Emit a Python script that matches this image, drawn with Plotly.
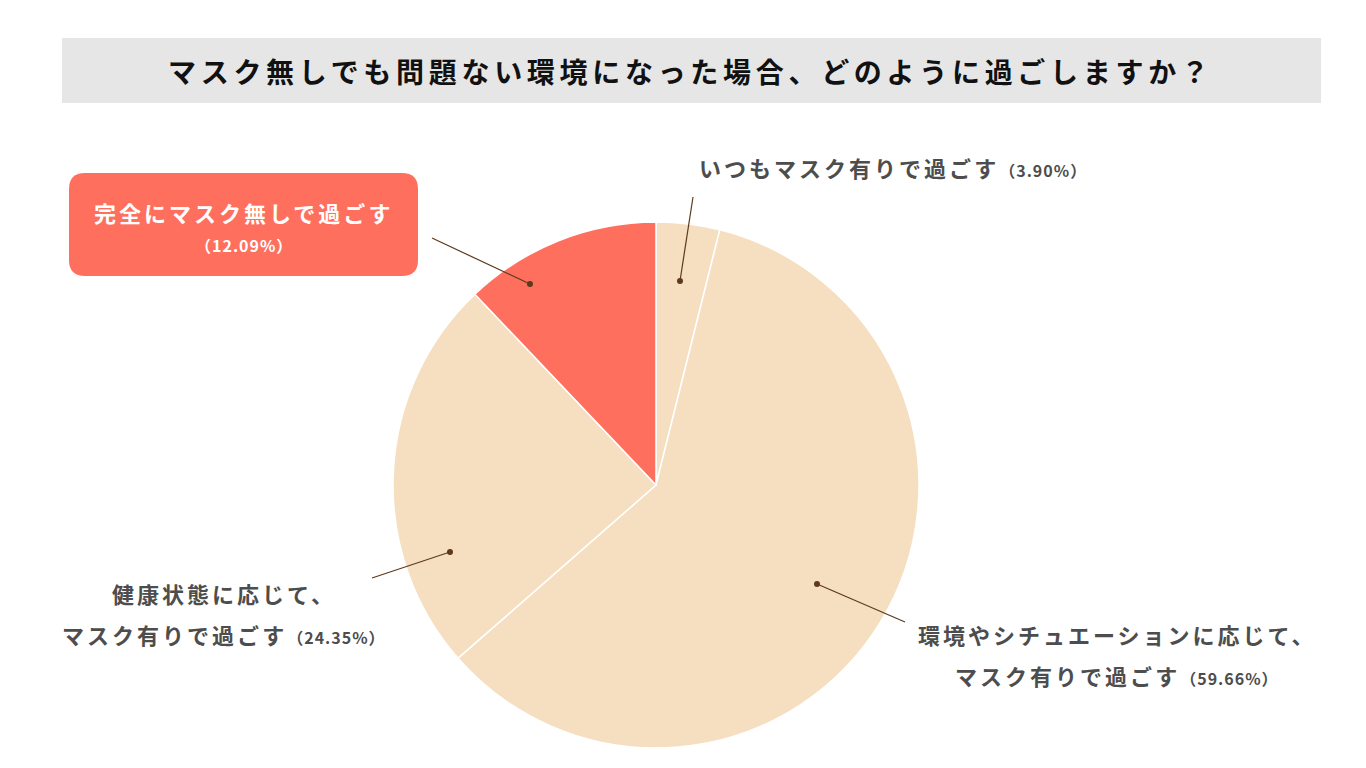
import plotly.graph_objects as go

W, H = 1366, 768

title = "マスク無しでも問題ない環境になった場合、どのように過ごしますか？"
answers = [
    "いつもマスク有りで過ごす",
    "環境やシチュエーションに応じて、<br>マスク有りで過ごす",
    "健康状態に応じて、<br>マスク有りで過ごす",
    "完全にマスク無しで過ごす",
]
shares = [3.90, 59.66, 24.35, 12.09]
colors = ["#F5DFC0", "#F5DFC0", "#F5DFC0", "#FF6F5E"]

FONT = "Noto Sans CJK JP"
TEXT_GRAY = "#4D4D4D"
LEADER = "#5C3A1A"


def px(x):
    return x / W


def py(y):
    return 1 - y / H


def spaced(s, size, gap):
    return f"<span style='font-size:{size}px;letter-spacing:{gap}px'>{s}</span>"


# pie centre (656, 485), radius 263 in page pixels
fig = go.Figure(
    go.Pie(
        labels=[a.replace("<br>", "") for a in answers],
        values=shares,
        sort=False,
        direction="clockwise",
        rotation=0,
        marker=dict(colors=colors, line=dict(color="white", width=1.5)),
        textinfo="none",
        hoverinfo="label+percent",
        showlegend=False,
        domain=dict(x=[px(393), px(919)], y=[py(748), py(222)]),
    )
)

shapes = []
# title band
shapes.append(dict(type="rect", xref="paper", yref="paper",
                   x0=px(62), x1=px(1321), y0=py(103), y1=py(38),
                   fillcolor="#E6E6E6", line_width=0, layer="below"))

# rounded box for the highlighted answer
x0, x1, y0, y1, r = 69, 418, 173, 276, 16
path = (
    f"M {px(x0 + r)},{py(y0)} L {px(x1 - r)},{py(y0)} "
    f"Q {px(x1)},{py(y0)} {px(x1)},{py(y0 + r)} L {px(x1)},{py(y1 - r)} "
    f"Q {px(x1)},{py(y1)} {px(x1 - r)},{py(y1)} L {px(x0 + r)},{py(y1)} "
    f"Q {px(x0)},{py(y1)} {px(x0)},{py(y1 - r)} L {px(x0)},{py(y0 + r)} "
    f"Q {px(x0)},{py(y0)} {px(x0 + r)},{py(y0)} Z"
)
shapes.append(dict(type="path", xref="paper", yref="paper", path=path,
                   fillcolor="#FF6F5E", line_width=0, layer="below"))

# leader lines: (dot x, dot y, end x, end y)
leaders = [(680, 281, 693, 197), (817, 584, 905, 622),
           (450, 552, 372, 578), (530, 284, 432, 238)]
for dx, dy, ex, ey in leaders:
    shapes.append(dict(type="line", xref="paper", yref="paper",
                       x0=px(dx), y0=py(dy), x1=px(ex), y1=py(ey),
                       line=dict(color=LEADER, width=1.2)))
    shapes.append(dict(type="circle", xref="paper", yref="paper",
                       x0=px(dx - 3), x1=px(dx + 3), y0=py(dy + 3), y1=py(dy - 3),
                       fillcolor=LEADER, line_width=0))


def label(line, pct):
    main = spaced(line, 22, 3)
    if pct is None:
        return f"<b>{main}</b>"
    return f"<b>{main}{spaced(f'（{pct:.2f}%）', 16, 1)}</b>"


l1a, l1b = answers[1].split("<br>")
l2a, l2b = answers[2].split("<br>")

annotations = [
    dict(x=px(691), y=py(71), text=f"<b>{spaced(title, 28, 4.7)}</b>",
         font=dict(size=28, color="#111111", family=FONT)),
    dict(x=px(244), y=py(212), text=f"<b>{spaced(answers[3], 22, 3)}</b>",
         font=dict(size=22, color="white", family=FONT)),
    dict(x=px(244), y=py(245), text=f"<b>{spaced(f'（{shares[3]:.2f}%）', 16, 1)}</b>",
         font=dict(size=16, color="white", family=FONT)),
    dict(x=px(697), y=py(167), xanchor="left", text=label(answers[0], shares[0]),
         font=dict(size=22, color=TEXT_GRAY, family=FONT)),
    dict(x=px(1117), y=py(634), text=label(l1a, None),
         font=dict(size=22, color=TEXT_GRAY, family=FONT)),
    dict(x=px(1117), y=py(675), text=label(l1b, shares[1]),
         font=dict(size=22, color=TEXT_GRAY, family=FONT)),
    dict(x=px(224), y=py(593), text=label(l2a, None),
         font=dict(size=22, color=TEXT_GRAY, family=FONT)),
    dict(x=px(224), y=py(634), text=label(l2b, shares[2]),
         font=dict(size=22, color=TEXT_GRAY, family=FONT)),
]
for a in annotations:
    a.update(xref="paper", yref="paper", showarrow=False)
    a.setdefault("xanchor", "center")
    a.setdefault("yanchor", "middle")

fig.update_layout(
    width=W,
    height=H,
    margin=dict(l=0, r=0, t=0, b=0),
    paper_bgcolor="white",
    plot_bgcolor="white",
    shapes=shapes,
    annotations=annotations,
    font=dict(family=FONT),
)

fig.write_html(
    "out.html",
    config={"displayModeBar": False},
    post_script="document.body.style.margin='0';",
)
